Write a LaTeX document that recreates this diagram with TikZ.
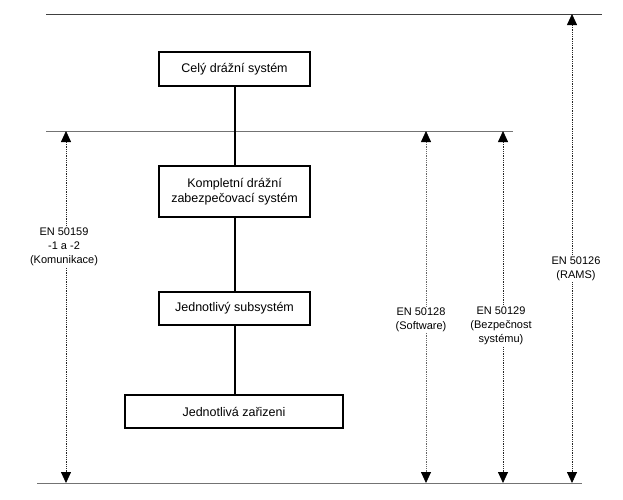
\documentclass[tikz,border=0pt]{standalone}
\usepackage{fontspec}
\setmainfont{Liberation Sans}
\usetikzlibrary{arrows.meta, positioning}

\begin{document}
\begin{tikzpicture}[
  x=1pt, y=-1pt,
  every node/.style={font=\fontsize{11}{14}\selectfont},
  box/.style={draw=black, line width=2pt, minimum width=151pt, align=center, inner sep=0pt, font=\fontsize{12.5}{15}\selectfont},
  link/.style={line width=2pt, draw=black},
  level/.style={line width=0.9pt, draw=black!55},
  span/.style={{Triangle[length=11pt, width=10pt, color=black]}-{Triangle[length=11pt, width=10pt, color=black]}, densely dotted, line width=0.8pt, draw=black!85},
  std/.style={fill=white, align=center, inner sep=1.5pt}
]

\useasboundingbox (0,0) rectangle (623,499);

% === LEVEL LINES ===
\coordinate (topL) at (46,14);
\coordinate (topR) at (602,14);
\coordinate (midL) at (46,131);
\coordinate (midR) at (513,131);
\coordinate (botL) at (37,483);
\coordinate (botR) at (582,483);

\draw[level, draw=black!75] (topL) -- (topR);
\draw[level] (midL) -- (midR);
\draw[level] (botL) -- (botR);

% === SYSTEM HIERARCHY ===
\node[box, minimum height=34pt] (whole) at (234.5,69) {Celý drážní systém};
\node[box, minimum height=51pt] (signal) at (234.5,191.5)
  {Kompletní drážní\\zabezpečovací systém};
\node[box, minimum height=33pt] (subsys) at (234.5,308.5) {Jednotlivý subsystém};
\node[box, minimum width=218pt, minimum height=33pt] (device) at (234,411.5)
  {Jednotlivá zařizeni};

\draw[link] (whole.south) -- (signal.north);
\draw[link] (signal.south) -- (subsys.north);
\draw[link] (subsys.south) -- (subsys.south |- device.north);

% === STANDARD SPANS ===
\coordinate (comTop) at (66,131);
\coordinate (comBot) at (66,483);
\coordinate (swTop) at (426,131);
\coordinate (swBot) at (426,483);
\coordinate (safeTop) at (503,131);
\coordinate (safeBot) at (503,483);
\coordinate (ramsTop) at (572,14);
\coordinate (ramsBot) at (572,483);

\draw[span] (comBot) -- (comTop);
\draw[span, draw=black!60] (swBot) -- (swTop);
\draw[span] (safeBot) -- (safeTop);
\draw[span] (ramsBot) -- (ramsTop);

\node[std] (com) at (64,247) {EN 50159\\-1 a -2\\(Komunikace)};
\node[std] (sw) at (421,320) {EN 50128\\(Software)};
\node[std] (safe) at (501,326) {EN 50129\\(Bezpečnost\\systému)};
\node[std] (rams) at (576,268.5) {EN 50126\\(RAMS)};

\end{tikzpicture}
\end{document}
